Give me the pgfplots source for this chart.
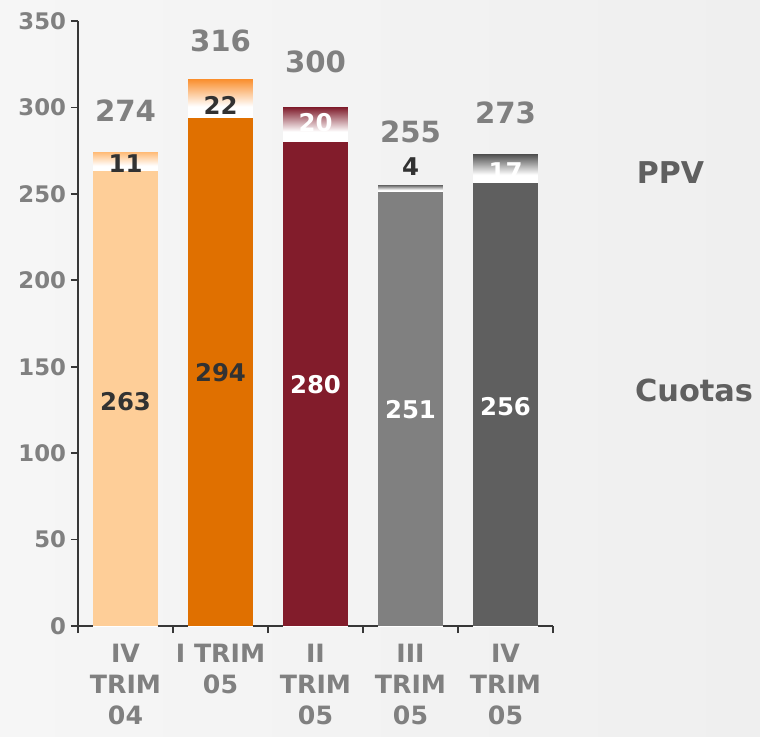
\documentclass[border=0pt]{standalone}
\usepackage{fontspec}
\setmainfont{DejaVu Sans}
\usepackage{pgfplots}
\pgfplotsset{compat=1.18}
\definecolor{bg}{RGB}{239,239,239}
\definecolor{bgl}{RGB}{246,246,246}
\definecolor{cA}{RGB}{254,206,152}
\definecolor{cAt}{RGB}{255,188,120}
\definecolor{cB}{RGB}{224,112,0}
\definecolor{cBt}{RGB}{250,145,50}
\definecolor{cC}{RGB}{130,28,43}
\definecolor{cCt}{RGB}{128,30,45}
\definecolor{cD}{RGB}{128,128,128}
\definecolor{cDt}{RGB}{105,105,105}
\definecolor{cE}{RGB}{95,95,95}
\definecolor{cEt}{RGB}{78,78,78}
\definecolor{tgray}{RGB}{128,128,128}
\definecolor{dgray}{RGB}{96,96,96}
\definecolor{dark}{RGB}{50,50,50}
\definecolor{axc}{RGB}{55,55,55}
% PPV segments: colour at the top fading to white at the bottom of the segment
\pgfdeclareverticalshading{ppvA}{100bp}{color(0bp)=(white); color(73.59bp)=(white); color(75bp)=(cAt); color(100bp)=(cAt)}
\pgfdeclareverticalshading{ppvB}{100bp}{color(0bp)=(white); color(72.56bp)=(white); color(75bp)=(cBt); color(100bp)=(cBt)}
\pgfdeclareverticalshading{ppvC}{100bp}{color(0bp)=(white); color(72.67bp)=(white); color(75bp)=(cCt); color(100bp)=(cCt)}
\pgfdeclareverticalshading{ppvD}{100bp}{color(0bp)=(white); color(74.45bp)=(white); color(75bp)=(cDt); color(100bp)=(cDt)}
\pgfdeclareverticalshading{ppvE}{100bp}{color(0bp)=(white); color(72.82bp)=(white); color(75bp)=(cEt); color(100bp)=(cEt)}
\begin{document}
\begin{tikzpicture}
\shade[left color=bgl, right color=bg] (-39pt,-55pt) rectangle (341pt,313pt);
\path[use as bounding box] (-39pt,-55pt) rectangle (341pt,313pt);
\begin{axis}[
  scale only axis, width=237.5pt, height=302.5pt,
  xmin=-0.5, xmax=4.5, ymin=0, ymax=350,
  axis x line*=bottom, axis y line*=left,
  axis line style={line width=0.9pt, draw=axc, -},
  clip=false,
  tick align=outside,
  major tick length=3.5pt,
  tick style={line width=0.9pt, draw=axc},
  xtick={-0.5,0.5,...,4.5}, xticklabels={},
  extra x ticks={0,1,2,3,4},
  extra x tick labels={{IV\\TRIM\\04},{I TRIM\\05},{II\\TRIM\\05},{III\\TRIM\\05},{IV\\TRIM\\05}},
  extra x tick style={major tick length=0pt,
    tick label style={align=center, anchor=north, inner sep=0pt, yshift=-8.8pt,
      font=\fontsize{12.6}{15.5}\selectfont\bfseries, text=tgray}},
  ytick={0,50,...,350},
  yticklabel style={font=\fontsize{11.4}{13}\selectfont\bfseries, text=tgray, inner sep=0pt, anchor=east, xshift=-2.3pt},
  /pgf/number format/assume math mode=true,
  mybar/.style={ybar, bar width=0.68, bar shift=0pt, draw=none},
  lab/.style={only marks, mark=none, nodes near coords, point meta=explicit symbolic,
    nodes near coords align={center},
    every node near coord/.append style={anchor=center, inner sep=0pt}},
]
% totals (PPV segment shaded, lower part covered by Cuotas)
\addplot[mybar, shading=ppvA] coordinates {(0,274)};
\addplot[mybar, shading=ppvB] coordinates {(1,316)};
\addplot[mybar, shading=ppvC] coordinates {(2,300)};
\addplot[mybar, shading=ppvD] coordinates {(3,255)};
\addplot[mybar, shading=ppvE] coordinates {(4,273)};
% Cuotas
\addplot[mybar, fill=cA] coordinates {(0,263)};
\addplot[mybar, fill=cB] coordinates {(1,294)};
\addplot[mybar, fill=cC] coordinates {(2,280)};
\addplot[mybar, fill=cD] coordinates {(3,251)};
\addplot[mybar, fill=cE] coordinates {(4,256)};
% value labels
\addplot[lab, every node near coord/.append style={text=dark, font=\fontsize{12.2}{14}\selectfont\bfseries}]
  coordinates {(0,130)[263] (1,146.5)[294] (0,267.6)[11] (1,301.4)[22] (3,265.7)[4]};
\addplot[lab, every node near coord/.append style={text=white, font=\fontsize{12.2}{14}\selectfont\bfseries}]
  coordinates {(2,139.5)[280] (3,125)[251] (4,127)[256] (2,291.3)[20] (4,262.8)[17]};
\addplot[lab, every node near coord/.append style={text=tgray, font=\fontsize{14.6}{16}\selectfont\bfseries}]
  coordinates {(0,298.3)[274] (1,338.8)[316] (2,326.3)[300] (3,286)[255] (4,296.6)[273]};
\node[anchor=west, inner sep=0pt, text=dgray, font=\fontsize{15}{17}\selectfont\bfseries] at (axis cs:5.38,262.4) {PPV};
\node[anchor=west, inner sep=0pt, text=dgray, font=\fontsize{15.2}{17}\selectfont\bfseries] at (axis cs:5.36,136) {Cuotas};
\end{axis}
\end{tikzpicture}
\end{document}
